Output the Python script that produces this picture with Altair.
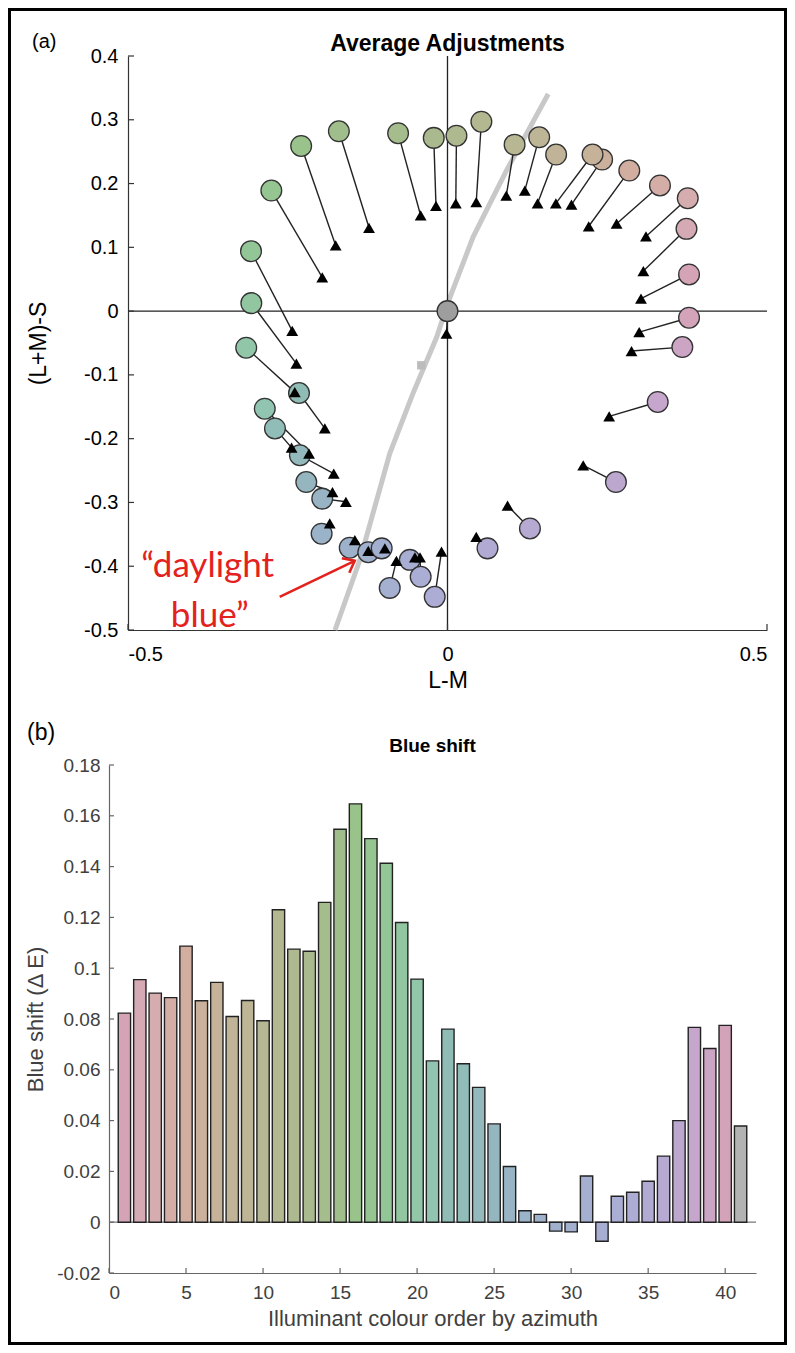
import altair as alt
import pandas as pd

# ---------------- panel (a): Average Adjustments ----------------
# starting illuminant chromaticities (circles), ordered by azimuth; last = neutral centre
lm_start = [0.378, 0.374, 0.376, 0.3325, 0.2845, 0.242, 0.227, 0.170, 0.1435, 0.105,
            0.053, 0.014, -0.0215, -0.0773, -0.170, -0.229, -0.2757, -0.3075, -0.307, -0.315,
            -0.286, -0.2324, -0.270, -0.231, -0.221, -0.196, -0.197, -0.153, -0.124, -0.103,
            -0.0904, -0.059, -0.042, -0.020, 0.0626, 0.129, 0.2636, 0.329, 0.3675, 0.378, 0.0]
s_start = [0.0575, 0.129, 0.177, 0.197, 0.2204, 0.2376, 0.2455, 0.2455, 0.2725, 0.261,
           0.297, 0.275, 0.2716, 0.279, 0.282, 0.259, 0.189, 0.094, 0.0125, -0.0574,
           -0.153, -0.1284, -0.184, -0.226, -0.268, -0.294, -0.349, -0.371, -0.378, -0.372,
           -0.434, -0.390, -0.4166, -0.448, -0.372, -0.3408, -0.268, -0.1425, -0.0564, -0.0104, 0.0]
# average adjusted settings (triangles)
lm_adj = [0.3028, 0.3065, 0.3106, 0.2646, 0.221, 0.194, 0.1696, 0.141, 0.121, 0.092,
          0.045, 0.013, -0.018, -0.042, -0.1228, -0.175, -0.196, -0.243, -0.2365, -0.239,
          -0.2167, -0.192, -0.244, -0.178, -0.180, -0.159, -0.1843, -0.145, -0.124, -0.098,
          -0.080, -0.051, -0.043, -0.0094, 0.045, 0.094, 0.2124, 0.253, 0.288, 0.300, -0.0016]
s_adj = [0.0194, 0.0627, 0.117, 0.137, 0.133, 0.167, 0.169, 0.169, 0.189, 0.181,
         0.171, 0.169, 0.165, 0.150, 0.1306, 0.103, 0.053, -0.031, -0.0824, -0.127,
         -0.2233, -0.184, -0.214, -0.2547, -0.284, -0.299, -0.333, -0.359, -0.376, -0.372,
         -0.3916, -0.386, -0.386, -0.377, -0.354, -0.305, -0.2417, -0.165, -0.0626, -0.033, -0.0354]

# daylight locus (grey curve) and its marker
locus_lm = [-0.176, -0.137, -0.0904, -0.054, -0.017, 0.001, 0.040, 0.092, 0.1576]
locus_s = [-0.5, -0.39, -0.2234, -0.129, -0.041, 0.014, 0.116, 0.220, 0.3405]
locus_marker_lm = [-0.041]
locus_marker_s = [-0.085]

# annotation
arrow_lm = [-0.2626, -0.1452]
arrow_s = [-0.448, -0.3915]
note_lines = ["\u201cdaylight", "blue\u201d"]
note_lm = [-0.3754, -0.372]
note_s = [-0.4166, -0.495]

xtick_a = [-0.5, 0, 0.5]
ytick_a = [-0.5, -0.4, -0.3, -0.2, -0.1, 0, 0.1, 0.2, 0.3, 0.4]

# ---------------- panel (b): Blue shift ----------------
bar_idx = list(range(1, 42))
blue_shift = [0.0823, 0.0955, 0.0902, 0.0884, 0.1087, 0.0872, 0.0944, 0.0810, 0.0873, 0.0793,
              0.1230, 0.1075, 0.1067, 0.1259, 0.1547, 0.1647, 0.1510, 0.1413, 0.1180, 0.0957,
              0.0635, 0.0760, 0.0624, 0.0531, 0.0387, 0.0219, 0.0045, 0.0031, -0.0035, -0.0038,
              0.0182, -0.0075, 0.0102, 0.0118, 0.0161, 0.0260, 0.0400, 0.0767, 0.0684, 0.0775, 0.0379]
bar_colors = ["#d4a4b6", "#d5aab4", "#d6adae", "#d4ada6", "#d1aea0", "#cbb09c", "#c6b199", "#c1b397",
              "#bdb595", "#b8b793", "#b4b891", "#afb98f", "#aaba8e", "#a5bc8c", "#9fbe8b", "#99c38a",
              "#95c590", "#93c697", "#92c6a0", "#92c6a9", "#91c4b1", "#8fbdb5", "#91bdb9", "#93b9bc",
              "#96b6bf", "#98b3c3", "#9bb3c8", "#9eb1cb", "#a0b0cd", "#a3afcf", "#a5afd0", "#a7aed2",
              "#aaadd4", "#adacd4", "#b1abd4", "#b6a9d2", "#bca8cf", "#c6a6cc", "#cda5c4", "#d2a3b9",
              "#b3b3b3"]
circle_colors = bar_colors[:40] + ["#9e9e9e"]

xtick_b = [0, 5, 10, 15, 20, 25, 30, 35, 40]
ytick_b = [-0.02, 0, 0.02, 0.04, 0.06, 0.08, 0.1, 0.12, 0.14, 0.16, 0.18]
xdomain_b = [0, 42]

FONT = "Liberation Sans"

def label_expr(dec):
    return ("datum.value == 0 ? '0' : (datum.value < 0 ? '-' + format(-datum.value, '.%d~f') "
            ": format(datum.value, '.%d~f'))" % (dec, dec))

one = pd.DataFrame({"k": [0]})
df_zero = pd.DataFrame({"z": [0.0]})

# ================= panel (a) =================
W1, H1 = 639, 574
df_a = pd.DataFrame({"lm": lm_start, "s": s_start, "lm_adj": lm_adj, "s_adj": s_adj,
                     "col": circle_colors})
df_locus = pd.DataFrame({"lm": locus_lm, "s": locus_s, "o": list(range(len(locus_lm)))})
df_marker = pd.DataFrame({"lm": locus_marker_lm, "s": locus_marker_s})
df_arrow = pd.DataFrame({"lm": [arrow_lm[0]], "s": [arrow_s[0]],
                         "lm2": [arrow_lm[1]], "s2": [arrow_s[1]]})
df_tip = pd.DataFrame({"lm": [arrow_lm[1]], "s": [arrow_s[1]]})
df_note = pd.DataFrame({"lm": note_lm, "s": note_s, "t": note_lines})
df_xt_a = pd.DataFrame({"v": xtick_a})
df_yt_a = pd.DataFrame({"v": ytick_a})

sx_a = alt.Scale(domain=[-0.5, 0.5], nice=False, zero=False)
sy_a = alt.Scale(domain=[-0.5, 0.4], nice=False, zero=False)
ax_x_a = alt.Axis(values=xtick_a, title="L-M", labelExpr=label_expr(1), ticks=False, tickSize=0,
                  grid=False, domainColor="#333333", domainWidth=1.2, labelFontSize=20,
                  titleFontSize=23, labelPadding=14, titlePadding=5, labelColor="#000000",
                  titleColor="#000000", labelFont=FONT, titleFont=FONT, titleFontWeight="normal")
ax_y_a = alt.Axis(values=ytick_a, title="(L+M)-S", labelExpr=label_expr(1), ticks=False, tickSize=0,
                  grid=False, domainColor="#333333", domainWidth=1.2, labelFontSize=20,
                  titleFontSize=23, labelPadding=10, titlePadding=33, labelColor="#000000",
                  titleColor="#000000", labelFont=FONT, titleFont=FONT, titleFontWeight="normal")

def XA(f):
    return alt.X(f, type="quantitative", scale=sx_a, axis=ax_x_a)

def YA(f):
    return alt.Y(f, type="quantitative", scale=sy_a, axis=ax_y_a)

locus = alt.Chart(df_locus).mark_line(color="#c8c8c8", strokeWidth=5).encode(
    x=XA("lm"), y=YA("s"), order="o:Q")
marker = alt.Chart(df_marker).mark_point(shape="square", filled=True, color="#bcbcbc",
                                          size=70, opacity=1).encode(x=XA("lm"), y=YA("s"))
vline = alt.Chart(df_zero).mark_rule(color="#222222", strokeWidth=1.3).encode(x=XA("z"))
hline = alt.Chart(df_zero).mark_rule(color="#222222", strokeWidth=1.3).encode(y=YA("z"))
yticks_a = alt.Chart(df_yt_a).mark_rule(color="#333333", strokeWidth=1.2).encode(
    y=YA("v"), x=alt.value(0), x2=alt.value(6))
xticks_a = alt.Chart(df_xt_a).mark_rule(color="#333333", strokeWidth=1.2).encode(
    x=XA("v"), y=alt.value(H1), y2=alt.value(H1 - 6))
segs = alt.Chart(df_a).mark_rule(color="#222222", strokeWidth=1.4).encode(
    x=XA("lm"), y=YA("s"), x2="lm_adj:Q", y2="s_adj:Q")
circles = alt.Chart(df_a).mark_point(shape="circle", filled=True, size=430, opacity=1,
                                     stroke="#333333", strokeWidth=1.3).encode(
    x=XA("lm"), y=YA("s"), fill=alt.Fill("col:N", scale=None))
tris = alt.Chart(df_a).mark_point(shape="triangle-up", filled=True, color="#000000", size=140,
                                  opacity=1).encode(x=XA("lm_adj"), y=YA("s_adj"))
arrow = alt.Chart(df_arrow).mark_rule(color="#e3221e", strokeWidth=2.6).encode(
    x=XA("lm"), y=YA("s"), x2="lm2:Q", y2="s2:Q")
tip = alt.Chart(df_tip).mark_point(shape="M-1,-0.8L0,0L-1,0.8", filled=False, color="#e3221e",
                                   strokeWidth=2.6, size=420, angle=333, opacity=1).encode(
    x=XA("lm"), y=YA("s"))
note = alt.Chart(df_note).mark_text(font="Lato", fontSize=35, color="#e3221e", align="center",
                                    baseline="alphabetic").encode(x=XA("lm"), y=YA("s"), text="t:N")
title_a = alt.Chart(one).mark_text(text="Average Adjustments", font=FONT, fontSize=23,
                                   fontWeight="bold", color="#000000", align="center",
                                   baseline="alphabetic").encode(x=alt.value(W1 / 2), y=alt.value(-5))
tag_a = alt.Chart(one).mark_text(text="(a)", font=FONT, fontSize=20, color="#000000", align="left",
                                 baseline="alphabetic").encode(x=alt.value(-96), y=alt.value(-8))
# figure frame pieces (left, right, top)
frame_a = [
    alt.Chart(one).mark_rect(color="#000000").encode(
        x=alt.value(-120), x2=alt.value(-117), y=alt.value(-48), y2=alt.value(650)),
    alt.Chart(one).mark_rect(color="#000000").encode(
        x=alt.value(656), x2=alt.value(659), y=alt.value(-48), y2=alt.value(650)),
    alt.Chart(one).mark_rect(color="#000000").encode(
        x=alt.value(-120), x2=alt.value(659), y=alt.value(-48), y2=alt.value(-45)),
]

panel_a = alt.layer(locus, marker, vline, hline, yticks_a, xticks_a, segs, circles, tris,
                    arrow, tip, note, title_a, tag_a, *frame_a).properties(width=W1, height=H1)

# ================= panel (b) =================
# grid columns share their origin with panel (a); the bar axis starts 19 px further left
SHIFT = 19
W2, H2 = 628, 508
df_b = pd.DataFrame({"idx": bar_idx, "val": blue_shift, "col": bar_colors})
df_xt_b = pd.DataFrame({"v": xtick_b})
df_yt_b = pd.DataFrame({"v": ytick_b})
df_base = pd.DataFrame({"a": [xdomain_b[0]], "b": [xdomain_b[1]], "z": [0.0]})

sx_b = alt.Scale(domain=xdomain_b, nice=False, zero=False, range=[-SHIFT, W2])
sy_b = alt.Scale(domain=[-0.02, 0.18], nice=False, zero=False)
GRAY_TXT = "#404040"
ax_x_b = alt.Axis(values=xtick_b, title="Illuminant colour order by azimuth", format="d", ticks=False,
                  tickSize=0, grid=False, domainColor="#666666", domainWidth=1.2, labelFontSize=19,
                  titleFontSize=22, labelPadding=10, titlePadding=6, labelColor=GRAY_TXT,
                  titleColor=GRAY_TXT, labelFont=FONT, titleFont=FONT, titleFontWeight="normal")
ax_y_b = alt.Axis(values=ytick_b, title="Blue shift (\u0394 E)", labelExpr=label_expr(2), ticks=False,
                  tickSize=0, grid=False, domainColor="#666666", domainWidth=1.2, labelFontSize=19,
                  titleFontSize=22, labelPadding=9, titlePadding=9, labelColor=GRAY_TXT,
                  titleColor=GRAY_TXT, labelFont=FONT, titleFont=FONT, titleFontWeight="normal",
                  offset=SHIFT)

def XB(f):
    return alt.X(f, type="quantitative", scale=sx_b, axis=ax_x_b)

def YB(f):
    return alt.Y(f, type="quantitative", scale=sy_b, axis=ax_y_b)

bars = alt.Chart(df_b).transform_calculate(
    x0="datum.idx - 0.4", x1="datum.idx + 0.4", zero="0"
).mark_bar(stroke="#222222", strokeWidth=1.4).encode(
    x=XB("x0"), x2="x1:Q", y=YB("val"), y2="zero:Q", fill=alt.Fill("col:N", scale=None))
base0 = alt.Chart(df_base).mark_rule(color="#777777", strokeWidth=1.3).encode(
    x=XB("a"), x2="b:Q", y=YB("z"))
yticks_b = alt.Chart(df_yt_b).mark_rule(color="#666666", strokeWidth=1.2).encode(
    y=YB("v"), x=alt.value(-SHIFT), x2=alt.value(-SHIFT + 5))
xticks_b = alt.Chart(df_xt_b).mark_rule(color="#666666", strokeWidth=1.2).encode(
    x=XB("v"), y=alt.value(H2), y2=alt.value(H2 - 5))
title_b = alt.Chart(one).mark_text(text="Blue shift", font=FONT, fontSize=19, fontWeight="bold",
                                   color="#000000", align="center", baseline="alphabetic").encode(
    x=alt.value((W2 - SHIFT) / 2), y=alt.value(-13))
tag_b = alt.Chart(one).mark_text(text="(b)", font=FONT, fontSize=23, color="#000000", align="left",
                                 baseline="alphabetic").encode(x=alt.value(-101), y=alt.value(-25))
frame_b = [
    alt.Chart(one).mark_rect(color="#000000").encode(
        x=alt.value(-120), x2=alt.value(-117), y=alt.value(-59), y2=alt.value(580)),
    alt.Chart(one).mark_rect(color="#000000").encode(
        x=alt.value(656), x2=alt.value(659), y=alt.value(-59), y2=alt.value(580)),
    alt.Chart(one).mark_rect(color="#000000").encode(
        x=alt.value(-120), x2=alt.value(659), y=alt.value(577), y2=alt.value(580)),
]

panel_b = alt.layer(base0, bars, yticks_b, xticks_b, title_b, tag_b, *frame_b).properties(
    width=W2, height=H2)

chart = alt.vconcat(panel_a, panel_b, spacing=0).properties(padding=0).configure_view(stroke=None)

chart.save("out.html", embed_options={"renderer": "svg", "actions": False})
